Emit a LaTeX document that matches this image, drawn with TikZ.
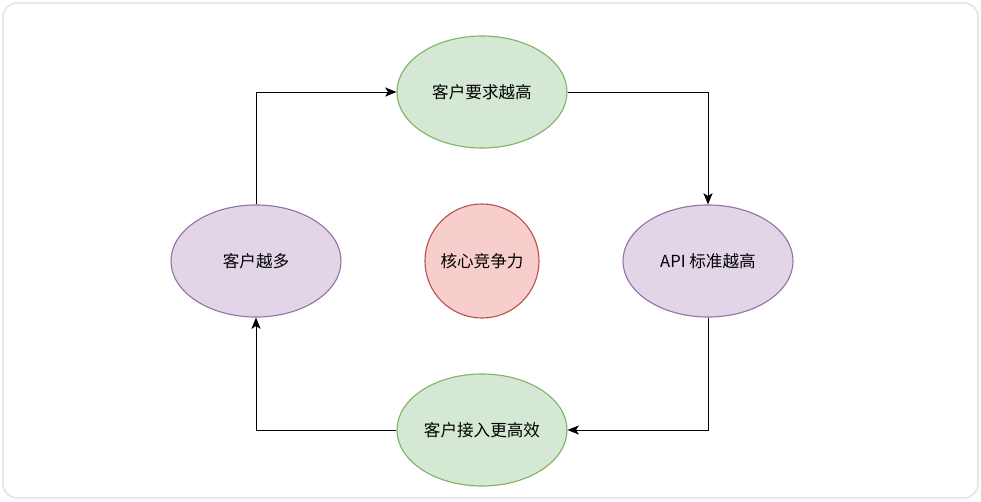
\documentclass[tikz,border=0pt]{standalone}
\usepackage{fontspec}
\setmainfont{Noto Sans CJK SC}
\usetikzlibrary{shapes.geometric, arrows.meta}

\definecolor{greenfill}{HTML}{D5E8D4}
\definecolor{greenline}{HTML}{82B366}
\definecolor{purplefill}{HTML}{E1D5E7}
\definecolor{purpleline}{HTML}{9673A6}
\definecolor{redfill}{HTML}{F8CECC}
\definecolor{redline}{HTML}{B85450}
\definecolor{frameline}{HTML}{E8E8E8}

\begin{document}
\begin{tikzpicture}[x=0.025cm, y=-0.025cm]
\tikzset{
every node/.style={font=\fontsize{11.8}{14}\selectfont},
oval/.style={draw, shape=ellipse, line width=0.8pt, minimum width=4.25cm, minimum height=2.8cm, inner sep=0pt},
green oval/.style={oval, fill=greenfill, draw=greenline},
purple oval/.style={oval, fill=purplefill, draw=purpleline},
core/.style={draw=redline, fill=redfill, shape=circle, line width=0.8pt, minimum size=2.85cm, inner sep=0pt},
link/.style={-{Stealth[length=8pt, width=6.5pt, inset=2pt]}, line width=0.7pt, black}
}

	% frame
	\useasboundingbox (0,0) rectangle (981,501);
	\draw[frameline, line width=1.4pt, rounded corners=10] (3,3) rectangle (978,498);

	\node[green oval] at (482, 92) (1) {客户要求越高};
	\node[purple oval] at (708, 261) (2) {API 标准越高};
	\node[green oval] at (482, 430) (3) {客户接入更高效};
	\node[purple oval] at (256, 261) (4) {客户越多};

	\node[core] at (482, 261) (c) {核心竞争力};

	\draw[link] (4) |- (1);
	\draw[link] (1) -| (2);
	\draw[link] (2) |- (3);
	\draw[link] (3) -| (4);

\end{tikzpicture}
\end{document}
